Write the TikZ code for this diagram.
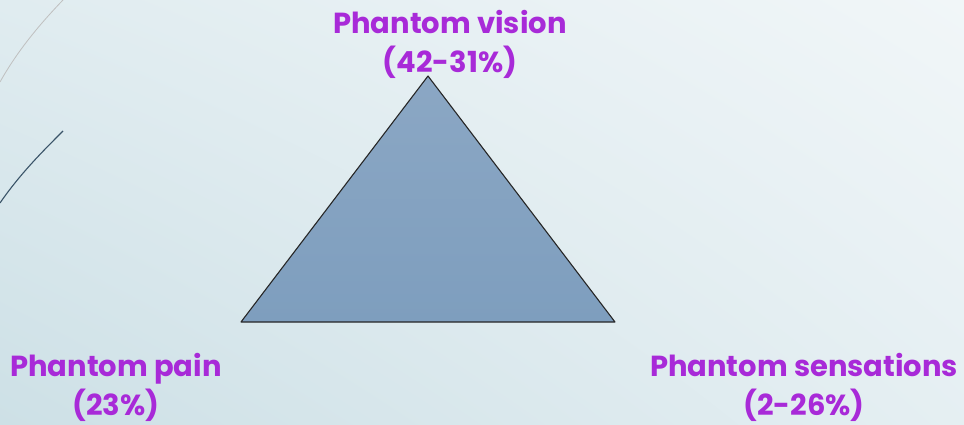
\documentclass[tikz,border=0pt]{standalone}
\usepackage{fontspec}
\setmainfont{Poppins}
\usepackage{xcolor}
\usetikzlibrary{positioning,shadings}

\definecolor{bgdark}{HTML}{CDE0E6}
\definecolor{bglight}{HTML}{F1F6F8}
\definecolor{bgmid}{HTML}{E0ECF0}
\definecolor{trihi}{HTML}{8BA7C4}
\definecolor{trilo}{HTML}{7E9EBE}
\definecolor{phantom}{HTML}{A82AD8}
\definecolor{swoosh}{HTML}{3A5468}

\begin{document}
\begin{tikzpicture}[
  x=1pt, y=-1pt,
  lbl/.style={font=\fontsize{29}{39}\selectfont\bfseries, text=phantom, align=center, anchor=base, inner sep=0pt},
  tri/.style={draw=black!85, line width=1.1pt, line join=round, top color=trihi, bottom color=trilo},
]
  % ---------------- background ----------------
  \shade[lower left=bgdark, upper right=bglight, upper left=bgmid, lower right=bgmid!70!bglight]
    (0,0) rectangle (964,425);
  \useasboundingbox (0,0) rectangle (964,425);
  \draw[black!25, line width=0.8pt] (63,0) .. controls (40,24) and (18,50) .. (0,82);
  \draw[swoosh, line width=1.1pt] (63,131) .. controls (42,152) and (20,174) .. (0,203);

  % ---------------- triangle ----------------
  \coordinate (top) at (428,76);
  \coordinate (bl) at (241,322);
  \coordinate (br) at (615,322);
  \path[tri] (top) -- (br) -- (bl) -- cycle;

  % ---------------- labels (anchored on the second line) ----------------
  \node[lbl] (vision) at (450,73) {Phantom vision\\(42-31\%)};
  \node[lbl] (pain) at (116,415) {Phantom pain\\(23\%)};
  \node[lbl] (sens) at (804,415) {Phantom sensations\\(2-26\%)};
\end{tikzpicture}
\end{document}
